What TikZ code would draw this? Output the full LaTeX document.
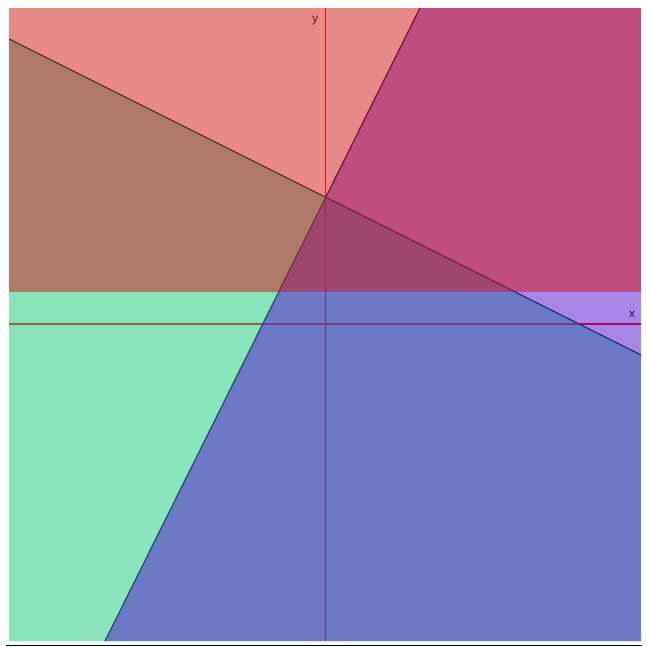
\documentclass[tikz,border=0pt]{standalone}
\usepackage{fontspec}
\setmainfont{Liberation Sans}
\definecolor{layerA}{RGB}{21,201,121}
\definecolor{layerB}{RGB}{81,17,209}
\definecolor{layerH}{RGB}{209,21,21}
\begin{document}
\begin{tikzpicture}[x=1pt,y=-1pt,
  axisline/.style={red,line width=1.6pt},
  boundary/.style={black,line width=1.2pt},
  layer/.style={fill opacity=0.5},
  axlabel/.style={font=\fontsize{12}{13}\selectfont,text=black,inner sep=0pt}]
\useasboundingbox (0,0) rectangle (646,647);
\fill[white] (0,0) rectangle (646,647);
% plot corners
\coordinate (TL) at (9,8);
\coordinate (TR) at (641,8);
\coordinate (BR) at (641,641);
\coordinate (BL) at (9,641);
% line A
\coordinate (A1) at (9,39);
\coordinate (A2) at (641,355);
% line B
\coordinate (B1) at (420,8);
\coordinate (B2) at (105,641);
% line H
\coordinate (H1) at (9,292);
\coordinate (H2) at (641,292);
% axes
\coordinate (X1) at (9,324);
\coordinate (X2) at (641,324);
\coordinate (Y1) at (325.5,8);
\coordinate (Y2) at (325.5,641);
\begin{scope}
\clip (TL) rectangle (BR);
\draw[axisline] (X1) -- (X2);
\draw[axisline] (Y1) -- (Y2);
\node[axlabel] (ylab) at (315,21) {y};
\node[axlabel] (xlab) at (632,314) {x};
\draw[boundary] (A1) -- (A2);
\draw[boundary] (B1) -- (B2);
\fill[layerA,layer] (A1) -- (A2) -- (BR) -- (BL) -- cycle;
\fill[layerB,layer] (B1) -- (TR) -- (BR) -- (B2) -- cycle;
\fill[layerH,layer] (TL) -- (TR) -- (H2) -- (H1) -- cycle;
\end{scope}
\coordinate (L1) at (6,645.5);
\coordinate (L2) at (642,645.5);
\draw[black,line width=1.3pt] (L1) -- (L2);
\end{tikzpicture}
\end{document}
